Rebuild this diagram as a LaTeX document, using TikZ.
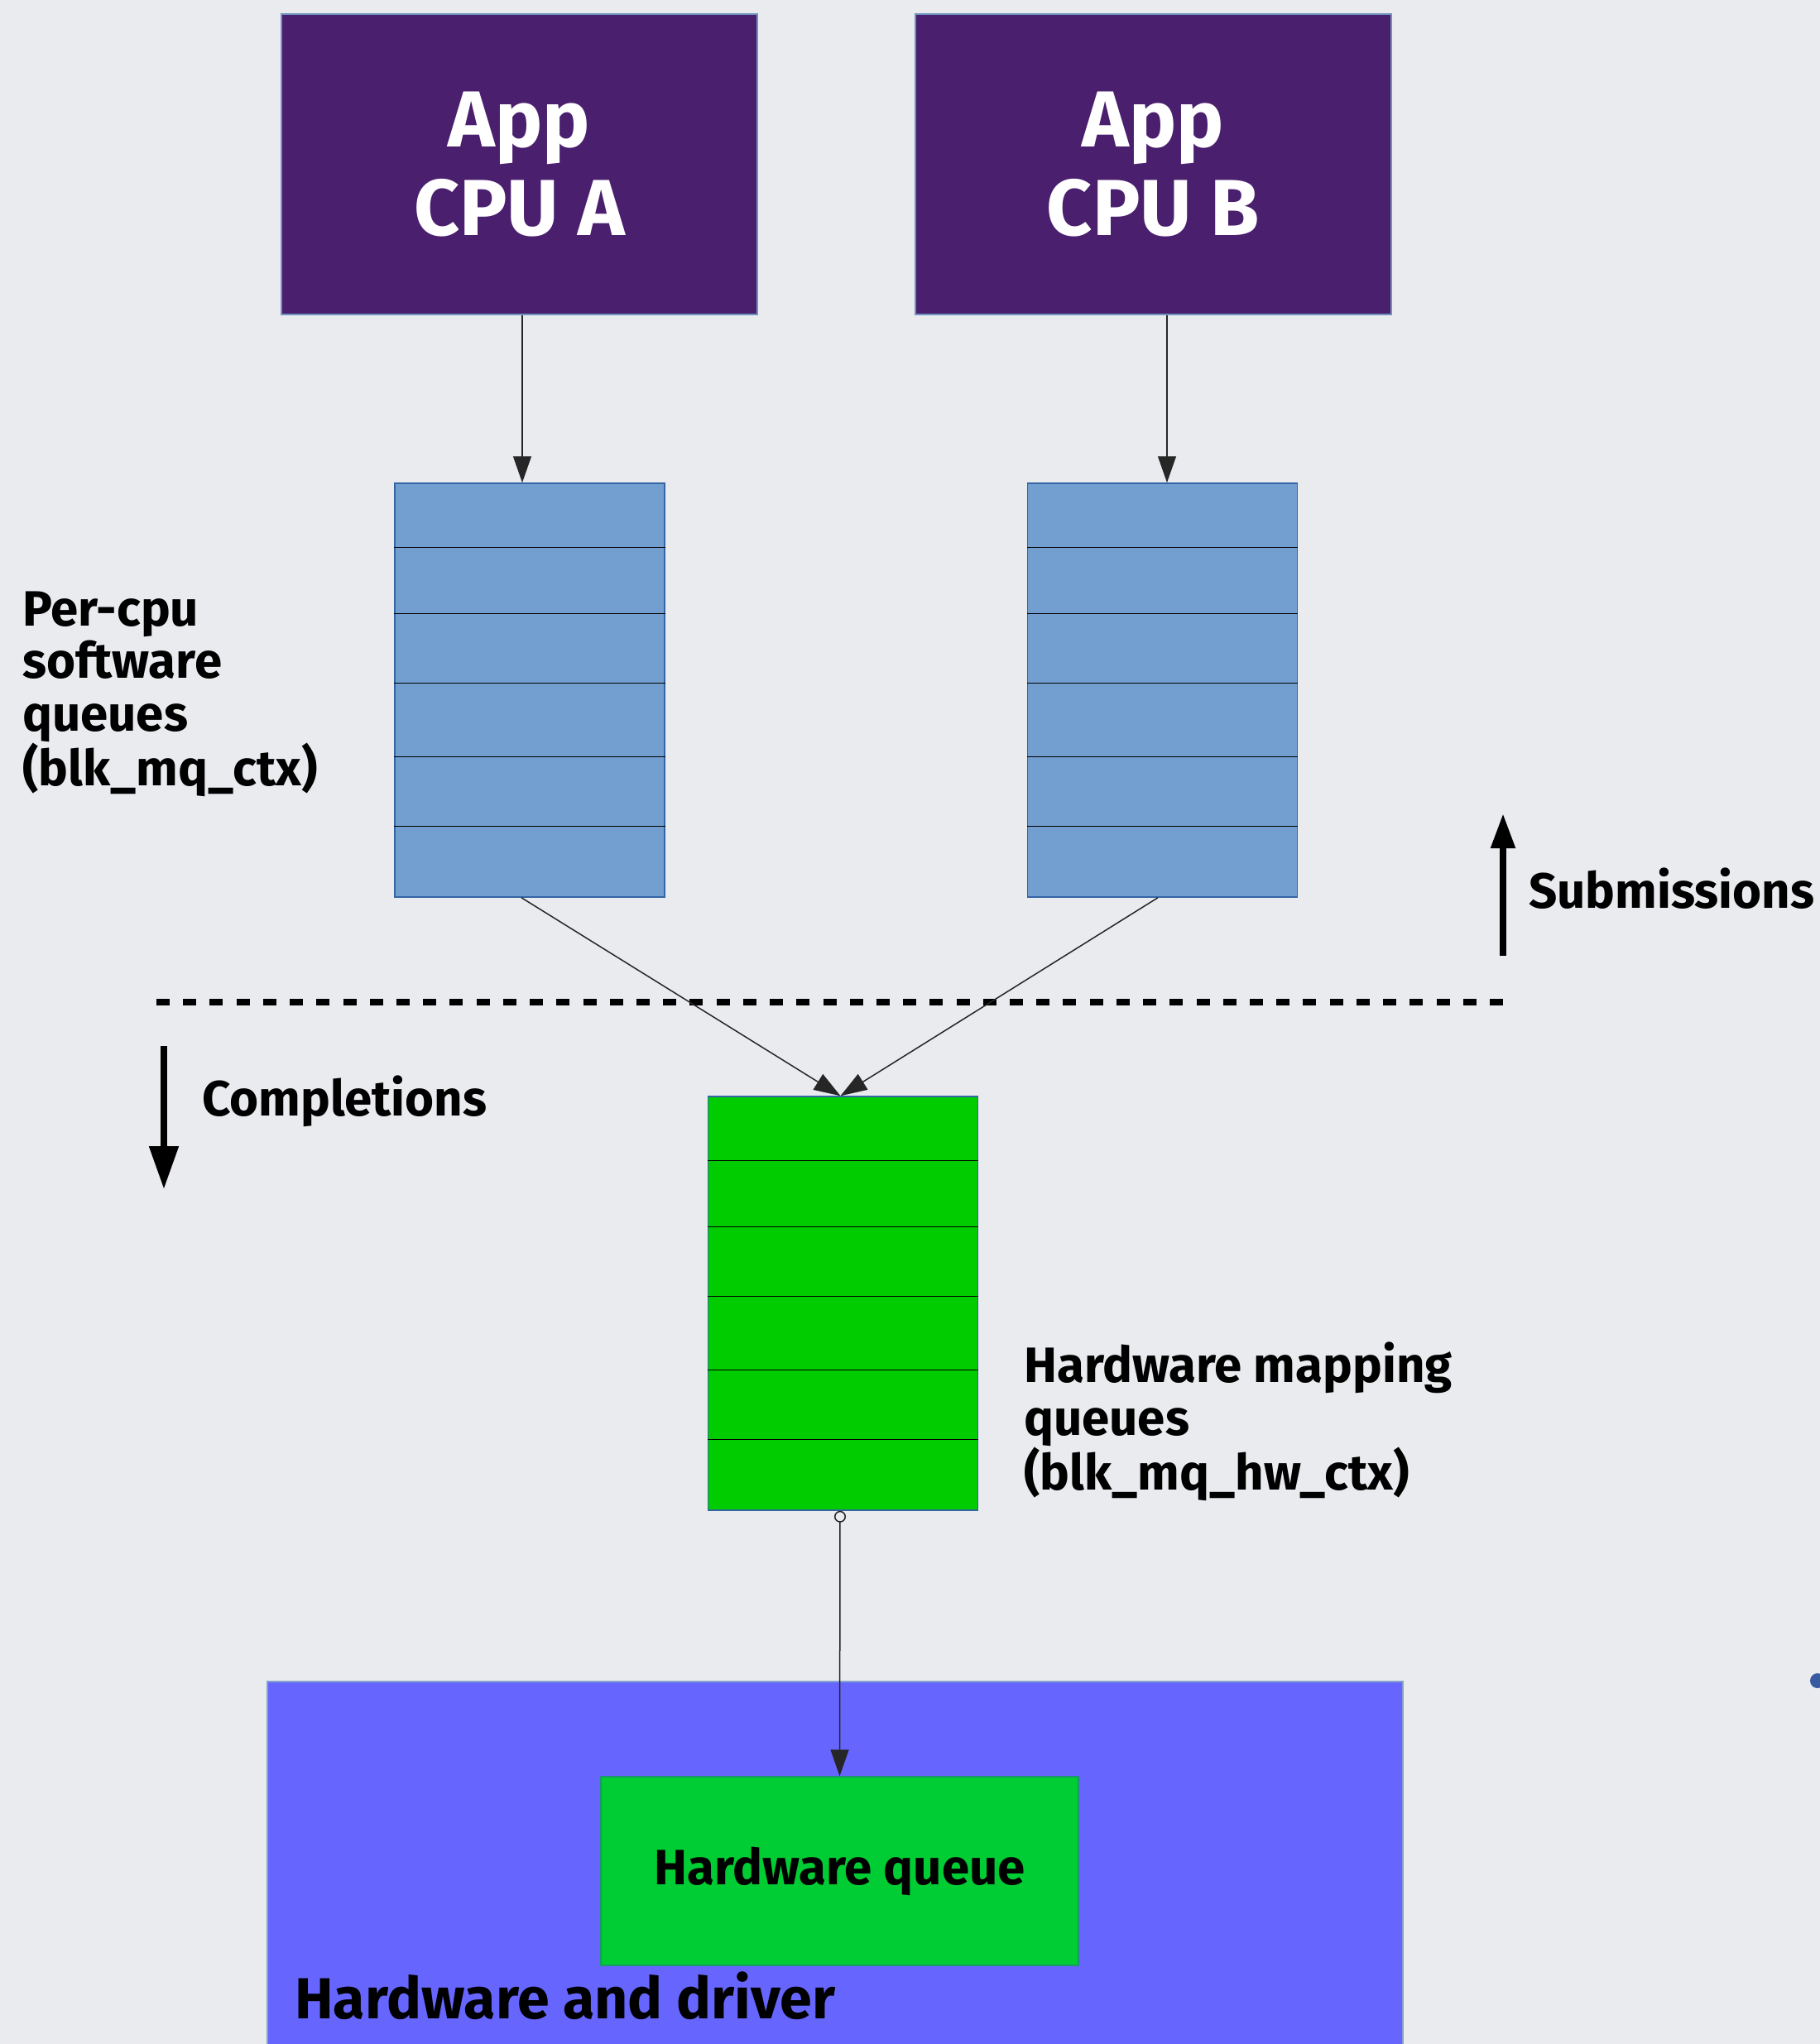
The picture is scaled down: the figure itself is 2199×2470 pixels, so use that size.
\documentclass[tikz,border=0pt]{standalone}
\usepackage{fontspec}
\setmainfont{Fira Sans}
\usetikzlibrary{arrows.meta, positioning}
\definecolor{pagebg}{RGB}{233,235,239}
\definecolor{apppurple}{RGB}{74,31,110}
\definecolor{swblue}{RGB}{114,159,207}
\definecolor{qedge}{RGB}{52,101,164}
\definecolor{hwmgreen}{RGB}{0,204,0}
\definecolor{hwqgreen}{RGB}{0,204,51}
\definecolor{hwblue}{RGB}{102,102,255}
\definecolor{dotblue}{RGB}{56,90,160}
\newcommand{\appfont}{\bfseries\fontsize{96}{107}\selectfont}
\newcommand{\lblfont}{\bfseries\fontsize{60}{63.5}\selectfont}
\newcommand{\hwfont}{\bfseries\fontsize{70}{74}\selectfont}
\tikzset{
  appbox/.style  = {draw=qedge!70, line width=1.5pt, fill=apppurple,
                    text=white, minimum width=575pt, minimum height=363pt,
                    inner sep=0pt, align=center, font=\appfont},
  swq/.style     = {draw=qedge, line width=1.5pt, fill=swblue,
                    minimum width=326pt, minimum height=500pt, inner sep=0pt},
  mapq/.style    = {swq, fill=hwmgreen},
  drvbox/.style  = {draw=qedge!60, line width=1.5pt, fill=hwblue,
                    minimum width=1372pt, minimum height=448pt, inner sep=0pt},
  hwqbox/.style  = {draw=qedge!50!hwqgreen, line width=1.5pt, fill=hwqgreen,
                    minimum width=577pt, minimum height=228pt, inner sep=0pt,
                    font=\lblfont},
  slotline/.style = {black, line width=1.5pt},
  arr/.style     = {-{Triangle[length=32pt,width=22pt]}, line width=1.5pt, black!85},
  openarr/.style = {arr, {Circle[open,length=14pt,width=14pt]}-{Triangle[length=32pt,width=22pt]}},
  bigarr/.style  = {-{Triangle[length=42pt,width=28pt]}, line width=8pt},
  sepline/.style = {line width=8pt, dash pattern=on 16pt off 16.22pt},
  lbl/.style     = {font=\lblfont, align=left, inner sep=0pt, anchor=base west}
}

\begin{document}
\begin{tikzpicture}[x=1pt, y=-1pt]

\fill[pagebg] (0,0) rectangle (2199,2470);
\useasboundingbox (0,0) rectangle (2199,2470);

%% Applications
\node[appbox] (cpua) at (627.5,198.5) {App\\CPU A};
\node[appbox] (cpub) at (1393.5,198.5) {App\\CPU B};

%% Software and hardware mapping queues
\node[swq]  (qa)  at (640,834)    {};
\node[swq]  (qb)  at (1404.5,834) {};
\node[mapq] (hwm) at (1018.5,1575) {};
\foreach \q in {qa,qb,hwm}
  \foreach \d in {78pt,158pt,242pt,331pt,415pt}
    \draw[slotline] ([yshift=-\d]\q.north west) -- ([yshift=-\d]\q.north east);

%% Hardware and driver
\node[drvbox] (drv) at (1009,2256) {};
\node[hwqbox] (hwq) at (1014.5,2261) {Hardware queue};
\node[font=\hwfont, anchor=base west, inner sep=0pt] (drvlbl) at (356,2439)
  {Hardware and driver};

%% Labels (anchored on the baseline of the last line)
\node[lbl] (swlbl)  at (27,949)    {Per-cpu\\software\\queues\\(blk\_mq\_ctx)};
\node[lbl] (hwlbl)  at (1237,1800) {Hardware mapping\\queues\\(blk\_mq\_hw\_ctx)};
\node[lbl] (sublbl) at (1847,1097) {Submissions};
\node[lbl] (cmplbl) at (244,1348)  {Completions};

%% Direction markers and separator
\coordinate (subfrom) at (1816,1155);
\coordinate (subto)   at (1816,983);
\draw[bigarr] (subfrom) -- (subto);
\coordinate (cmpfrom) at (198,1264);
\coordinate (cmpto)   at (198,1437);
\draw[bigarr, -{Triangle[length=52pt,width=34pt]}] (cmpfrom) -- (cmpto);
\coordinate (sepl) at (189,1211);
\coordinate (sepr) at (1816,1211);
\draw[sepline] (sepl) -- (sepr);

%% Request flow
\draw[arr] ([xshift=3.5pt]cpua.south)  -- ([xshift=-9pt]qa.north);
\draw[arr] ([xshift=16.5pt]cpub.south) -- ([xshift=5.5pt]qb.north);
\draw[arr] ([xshift=-10pt]qa.south)    -- ([xshift=-3pt]hwm.north);
\draw[arr] ([xshift=-5.5pt]qb.south)   -- ([xshift=-3pt]hwm.north);
\draw[openarr] ([xshift=-3.5pt]hwm.south) -- (hwq.north);

\fill[dotblue] (2196,2031) circle (9);

\end{tikzpicture}
\end{document}
